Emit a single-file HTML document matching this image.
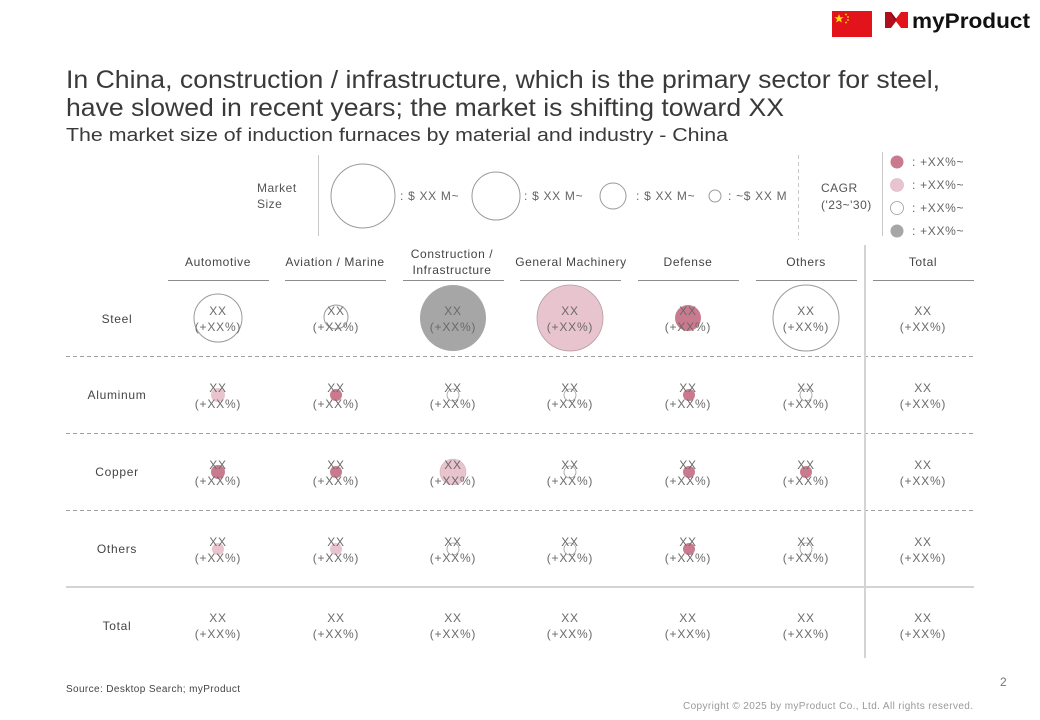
<!DOCTYPE html>
<html>
<head>
<meta charset="utf-8">
<style>
html,body{margin:0;padding:0;background:#fff;}
svg{display:block;}
text{font-family:"Liberation Sans",Arial,sans-serif;}
</style>
</head>
<body>
<svg width="1040" height="720" viewBox="0 0 1040 720" xmlns="http://www.w3.org/2000/svg">
<rect width="1040" height="720" fill="#fff"/>

<!-- Header flag & logo -->
<rect x="832" y="11" width="40" height="26" fill="#E3131B"/>
<polygon points="839,14 840.2,17.3 843.6,17.3 840.9,19.3 841.9,22.6 839,20.6 836.1,22.6 837.1,19.3 834.4,17.3 837.8,17.3" fill="#FFDE00"/>
<circle cx="846" cy="14.5" r="0.9" fill="#FFDE00"/>
<circle cx="848" cy="17" r="0.9" fill="#FFDE00"/>
<circle cx="848" cy="20" r="0.9" fill="#FFDE00"/>
<circle cx="846" cy="22.5" r="0.9" fill="#FFDE00"/>
<polygon points="885,12 891,12 897,20 891,28 885,28" fill="#B0101E"/>
<polygon points="895,20 901,12 908,12 908,28 901,28" fill="#E3131B"/>
<polygon points="891,12 897,20 895,20 891,14" fill="#7a0a14"/>
<text x="912" y="28" font-size="21" font-weight="bold" fill="#111" textLength="118" lengthAdjust="spacingAndGlyphs">myProduct</text>

<!-- Titles -->
<text x="66" y="88" font-size="25" fill="#3a3a3a" textLength="874" lengthAdjust="spacingAndGlyphs">In China, construction / infrastructure, which is the primary sector for steel,</text>
<text x="66" y="116" font-size="25" fill="#3a3a3a" textLength="718" lengthAdjust="spacingAndGlyphs">have slowed in recent years; the market is shifting toward XX</text>
<text x="66" y="141" font-size="18" fill="#3a3a3a" textLength="662" lengthAdjust="spacingAndGlyphs">The market size of induction furnaces by material and industry - China</text>

<!-- Legend: market size -->
<g font-size="12" fill="#555" letter-spacing="0.5">
<text x="257" y="192">Market</text>
<text x="257" y="208">Size</text>
</g>
<line x1="318.5" y1="155" x2="318.5" y2="236" stroke="#c8c8c8" stroke-width="1"/>
<circle cx="363" cy="196" r="32" fill="#fff" stroke="#9a9a9a" stroke-width="1"/>
<circle cx="496" cy="196" r="24" fill="#fff" stroke="#9a9a9a" stroke-width="1"/>
<circle cx="613" cy="196" r="13" fill="#fff" stroke="#9a9a9a" stroke-width="1"/>
<circle cx="715" cy="196" r="6" fill="#fff" stroke="#9a9a9a" stroke-width="1"/>
<g font-size="12" fill="#666" letter-spacing="0.7">
<text x="400" y="200">: $ XX M~</text>
<text x="524" y="200">: $ XX M~</text>
<text x="636" y="200">: $ XX M~</text>
<text x="728" y="200">: ~$ XX M</text>
</g>
<line x1="798.5" y1="155" x2="798.5" y2="240" stroke="#c8c8c8" stroke-width="1" stroke-dasharray="4,3"/>
<g font-size="12" fill="#555" letter-spacing="0.5">
<text x="821" y="192">CAGR</text>
<text x="821" y="209">('23~'30)</text>
</g>
<line x1="882.5" y1="152" x2="882.5" y2="236" stroke="#c8c8c8" stroke-width="1"/>
<circle cx="897" cy="162" r="6.5" fill="#C97A8E"/>
<circle cx="897" cy="185" r="6.5" fill="#E8C4CE" stroke="#d6b0bb" stroke-width="0.6"/>
<circle cx="897" cy="208" r="6.5" fill="#fff" stroke="#9a9a9a" stroke-width="0.8"/>
<circle cx="897" cy="231" r="6.5" fill="#A6A6A6"/>
<g font-size="12" fill="#666" letter-spacing="0.7">
<text x="912" y="166">: +XX%~</text>
<text x="912" y="189">: +XX%~</text>
<text x="912" y="212">: +XX%~</text>
<text x="912" y="235">: +XX%~</text>
</g>

<!-- Column headers -->
<g font-size="12" fill="#444" text-anchor="middle" letter-spacing="0.6">
<text x="218" y="266">Automotive</text>
<text x="335" y="266">Aviation / Marine</text>
<text x="452" y="258">Construction /</text>
<text x="452" y="274">Infrastructure</text>
<text x="571" y="266">General Machinery</text>
<text x="688" y="266">Defense</text>
<text x="806" y="266">Others</text>
<text x="923" y="266">Total</text>
</g>
<g stroke="#8c8c8c" stroke-width="1">
<line x1="168" y1="280.5" x2="269" y2="280.5"/>
<line x1="285" y1="280.5" x2="386" y2="280.5"/>
<line x1="403" y1="280.5" x2="504" y2="280.5"/>
<line x1="520" y1="280.5" x2="621" y2="280.5"/>
<line x1="638" y1="280.5" x2="739" y2="280.5"/>
<line x1="756" y1="280.5" x2="857" y2="280.5"/>
<line x1="873" y1="280.5" x2="974" y2="280.5"/>
</g>

<!-- Grid lines -->
<g stroke="#a0a0a0" stroke-width="1" stroke-dasharray="4,3">
<line x1="66" y1="356.5" x2="974" y2="356.5"/>
<line x1="66" y1="433.5" x2="974" y2="433.5"/>
<line x1="66" y1="510.5" x2="974" y2="510.5"/>
</g>
<line x1="66" y1="587" x2="974" y2="587" stroke="#d4d4d4" stroke-width="2"/>
<line x1="865" y1="245" x2="865" y2="658" stroke="#d4d4d4" stroke-width="2"/>

<!-- Row labels -->
<g font-size="12" fill="#444" text-anchor="middle" letter-spacing="0.7">
<text x="117" y="323">Steel</text>
<text x="117" y="399">Aluminum</text>
<text x="117" y="476">Copper</text>
<text x="117" y="553">Others</text>
<text x="117" y="630">Total</text>
</g>

<!-- Bubbles -->
<!-- Steel -->
<circle cx="218" cy="318" r="24" fill="#fff" stroke="#9a9a9a" stroke-width="1"/>
<circle cx="336" cy="317" r="12" fill="#fff" stroke="#9a9a9a" stroke-width="1"/>
<circle cx="453" cy="318" r="33" fill="#A6A6A6"/>
<circle cx="570" cy="318" r="33" fill="#E8C4CE" stroke="#b89aa3" stroke-width="0.8"/>
<circle cx="688" cy="318" r="13" fill="#C97A8E"/>
<circle cx="806" cy="318" r="33" fill="#fff" stroke="#9a9a9a" stroke-width="1"/>
<!-- Aluminum -->
<circle cx="218" cy="395" r="7" fill="#E8C4CE"/>
<circle cx="336" cy="395" r="6" fill="#C97A8E"/>
<circle cx="453" cy="395" r="6" fill="#fff" stroke="#9a9a9a" stroke-width="0.8"/>
<circle cx="570" cy="395" r="6" fill="#fff" stroke="#9a9a9a" stroke-width="0.8"/>
<circle cx="689" cy="395" r="6" fill="#C97A8E"/>
<circle cx="806" cy="395" r="6" fill="#fff" stroke="#9a9a9a" stroke-width="0.8"/>
<!-- Copper -->
<circle cx="218" cy="472" r="7" fill="#C97A8E"/>
<circle cx="336" cy="472" r="6" fill="#C97A8E"/>
<circle cx="453" cy="472" r="13" fill="#E8C4CE" stroke="#d6b0bb" stroke-width="0.6"/>
<circle cx="570" cy="472" r="6" fill="#fff" stroke="#9a9a9a" stroke-width="0.8"/>
<circle cx="689" cy="472" r="6" fill="#C97A8E"/>
<circle cx="806" cy="472" r="6" fill="#C97A8E"/>
<!-- Others -->
<circle cx="218" cy="549" r="6" fill="#E8C4CE"/>
<circle cx="336" cy="549" r="6" fill="#E8C4CE"/>
<circle cx="453" cy="549" r="6" fill="#fff" stroke="#9a9a9a" stroke-width="0.8"/>
<circle cx="570" cy="549" r="6" fill="#fff" stroke="#9a9a9a" stroke-width="0.8"/>
<circle cx="689" cy="549" r="6" fill="#C97A8E"/>
<circle cx="806" cy="549" r="6" fill="#fff" stroke="#9a9a9a" stroke-width="0.8"/>

<!-- Cell values -->
<g font-size="12" fill="#6a6a6a" text-anchor="middle" letter-spacing="0.8">
<text x="218" y="315">XX</text><text x="218" y="331">(+XX%)</text>
<text x="336" y="315">XX</text><text x="336" y="331">(+XX%)</text>
<text x="453" y="315">XX</text><text x="453" y="331">(+XX%)</text>
<text x="570" y="315">XX</text><text x="570" y="331">(+XX%)</text>
<text x="688" y="315">XX</text><text x="688" y="331">(+XX%)</text>
<text x="806" y="315">XX</text><text x="806" y="331">(+XX%)</text>
<text x="923" y="315">XX</text><text x="923" y="331">(+XX%)</text>

<text x="218" y="392">XX</text><text x="218" y="408">(+XX%)</text>
<text x="336" y="392">XX</text><text x="336" y="408">(+XX%)</text>
<text x="453" y="392">XX</text><text x="453" y="408">(+XX%)</text>
<text x="570" y="392">XX</text><text x="570" y="408">(+XX%)</text>
<text x="688" y="392">XX</text><text x="688" y="408">(+XX%)</text>
<text x="806" y="392">XX</text><text x="806" y="408">(+XX%)</text>
<text x="923" y="392">XX</text><text x="923" y="408">(+XX%)</text>

<text x="218" y="469">XX</text><text x="218" y="485">(+XX%)</text>
<text x="336" y="469">XX</text><text x="336" y="485">(+XX%)</text>
<text x="453" y="469">XX</text><text x="453" y="485">(+XX%)</text>
<text x="570" y="469">XX</text><text x="570" y="485">(+XX%)</text>
<text x="688" y="469">XX</text><text x="688" y="485">(+XX%)</text>
<text x="806" y="469">XX</text><text x="806" y="485">(+XX%)</text>
<text x="923" y="469">XX</text><text x="923" y="485">(+XX%)</text>

<text x="218" y="546">XX</text><text x="218" y="562">(+XX%)</text>
<text x="336" y="546">XX</text><text x="336" y="562">(+XX%)</text>
<text x="453" y="546">XX</text><text x="453" y="562">(+XX%)</text>
<text x="570" y="546">XX</text><text x="570" y="562">(+XX%)</text>
<text x="688" y="546">XX</text><text x="688" y="562">(+XX%)</text>
<text x="806" y="546">XX</text><text x="806" y="562">(+XX%)</text>
<text x="923" y="546">XX</text><text x="923" y="562">(+XX%)</text>

<text x="218" y="622">XX</text><text x="218" y="638">(+XX%)</text>
<text x="336" y="622">XX</text><text x="336" y="638">(+XX%)</text>
<text x="453" y="622">XX</text><text x="453" y="638">(+XX%)</text>
<text x="570" y="622">XX</text><text x="570" y="638">(+XX%)</text>
<text x="688" y="622">XX</text><text x="688" y="638">(+XX%)</text>
<text x="806" y="622">XX</text><text x="806" y="638">(+XX%)</text>
<text x="923" y="622">XX</text><text x="923" y="638">(+XX%)</text>
</g>

<!-- Footer -->
<text x="66" y="692" font-size="10" fill="#444" textLength="174" lengthAdjust="spacing">Source: Desktop Search; myProduct</text>
<text x="1000" y="686" font-size="12" fill="#777">2</text>
<text x="683" y="709" font-size="10" fill="#999" textLength="290" lengthAdjust="spacing">Copyright © 2025 by myProduct Co., Ltd.  All rights reserved.</text>
</svg>
</body>
</html>
